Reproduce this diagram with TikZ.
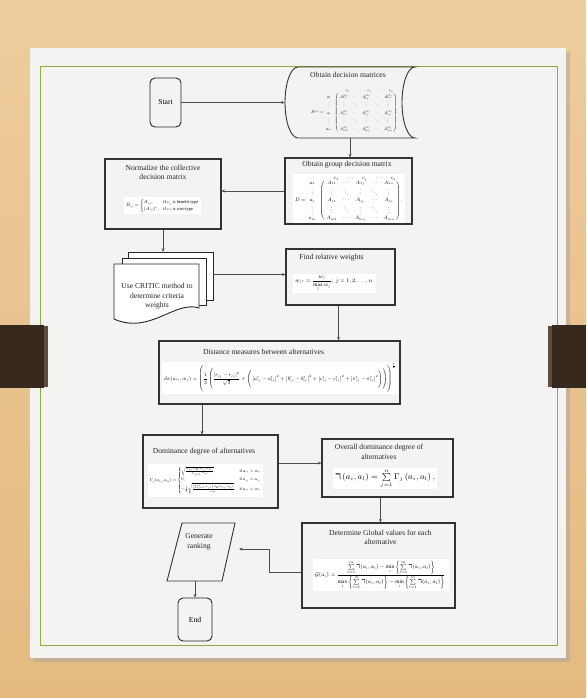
\documentclass[tikz,border=0pt]{standalone}
\usepackage{amsmath,amssymb}
\usepackage{array}
\usepackage{graphicx}
\usepackage{fontspec}
\setmainfont{Liberation Serif}
\usetikzlibrary{arrows.meta,calc}
\definecolor{wood}     {RGB}{228,186,130}
\definecolor{woodlight}{RGB}{238,204,156}
\definecolor{paper}    {RGB}{243,243,241}
\definecolor{greenline}{RGB}{140,172,60}
\definecolor{binder}   {RGB}{56,41,30}
\definecolor{binderrim}{RGB}{96,76,56}
\newcommand{\fml}[2]{\resizebox{#1pt}{!}{$\displaystyle #2$}}

\begin{document}
\begin{tikzpicture}[x=1pt,y=-1pt,>={Stealth[length=3.5pt,width=3pt]},
    font=\fontsize{7.6}{9.6}\selectfont,
    procbox/.style={draw=black!80,line width=1.1pt},
    termbox/.style={draw=black!85,line width=0.9pt,rounded corners=5pt},
    pagebox/.style={draw=black!85,line width=0.9pt,fill=white},
    ttl/.style={text=black!85,align=center,inner sep=0pt},
    fmlbox/.style={fill=white,inner sep=2pt},
    conn/.style={draw=black!70,line width=0.6pt}]
  \useasboundingbox (0,0) rectangle (586,698);
  \shade[top color=woodlight,bottom color=wood] (0,0) rectangle (586,698);
  \fill[black!35,opacity=0.5] (33,52) rectangle (570,662);
  \fill[paper] (30,48) rectangle (566,658);
  \draw[greenline,line width=0.9pt] (40,66) rectangle (557,645);
  \fill[binder] (0,325) rectangle (44,388);
  \fill[binderrim] (44,326) rectangle (48,387);
  \fill[binder] (552,325) rectangle (586,388);
  \fill[binderrim] (548,326) rectangle (552,387);

  \node[termbox,minimum width=31,minimum height=49] (start) at (165.5,102.5) {Start};

  \node[minimum width=130,minimum height=71,inner sep=0pt] (dm) at (350,102.5) {};
  \draw[procbox,line width=0.9pt] (298,67) -- (415,67)
    .. controls (407.8,67) and (402,82.9) .. (402,102.5)
    .. controls (402,122.1) and (407.8,138) .. (415,138) -- (298,138)
    .. controls (290.8,138) and (285,122.1) .. (285,102.5)
    .. controls (285,82.9) and (290.8,67) .. cycle;
  \node[ttl] (dmt) at (348,75) {Obtain decision matrices};
  \node[inner sep=0pt] (dmf) at (355,109.5) {\def\arraystretch{1.4}\fml{88}{\begin{array}{@{}r@{}c@{\,}c@{}}
      & & \begin{array}{@{\hspace{10pt}}*{5}{w{c}{1.6em}}@{}} c_1&\cdots&c_j&\cdots&c_n\end{array}\\[-1pt]
      B^{(k)}= & \begin{array}{c}a_1\\\vdots\\a_i\\\vdots\\a_m\end{array} &
      \left(\begin{array}{*{5}{w{c}{1.6em}}}
        A^{(k)}_{11}&\cdots&A^{(k)}_{1j}&\cdots&A^{(k)}_{1n}\\
        \vdots&\ddots&\vdots&\ddots&\vdots\\
        A^{(k)}_{i1}&\cdots&A^{(k)}_{ij}&\cdots&A^{(k)}_{in}\\
        \vdots&\ddots&\vdots&\ddots&\vdots\\
        A^{(k)}_{m1}&\cdots&A^{(k)}_{mj}&\cdots&A^{(k)}_{mn}\end{array}\right).
    \end{array}}};

  \node[procbox,minimum width=127,minimum height=66] (grp) at (348.5,191) {};
  \node[ttl] (grpt) at (347,165) {Obtain group decision matrix};
  \node[fmlbox] (grpf) at (349,198.5) {\fml{108}{\begin{array}{@{}r@{}c@{\,}c@{}}
      & & \begin{array}{@{\hspace{10pt}}*{5}{w{c}{1.6em}}@{}} c_1&\cdots&c_j&\cdots&c_n\end{array}\\[-3pt]
      D= & \begin{array}{c}a_1\\\vdots\\a_i\\\vdots\\a_m\end{array} &
      \left(\begin{array}{*{5}{w{c}{1.6em}}}
        A_{11}&\cdots&A_{1j}&\cdots&A_{1n}\\
        \vdots&\ddots&\vdots&\ddots&\vdots\\
        A_{i1}&\cdots&A_{ij}&\cdots&A_{in}\\
        \vdots&\ddots&\vdots&\ddots&\vdots\\
        A_{m1}&\cdots&A_{mj}&\cdots&A_{mn}\end{array}\right).
    \end{array}}};

  \node[procbox,minimum width=116,minimum height=70] (norm) at (163,194) {};
  \node[ttl] (normt) at (163,172.5) {Normalize the collective\\decision matrix};
  \node[fmlbox] (normf) at (162.5,205.5) {\fml{73}{B_{ij}=\begin{cases}
      A_{ij}, & \text{if } c_j \text{ is benefit-type}\\
      (A_{ij})^c, & \text{if } c_j \text{ is cost-type}\end{cases}}};

  \draw[pagebox] (128,252) rectangle (213,300);
  \draw[pagebox] (122,258) rectangle (206,305);
  \draw[pagebox] (114,264) -- (199,264) -- (199,308)
    .. controls (175,300) and (150,335) .. (114,319) -- cycle;
  \node[minimum width=99,minimum height=71,inner sep=0pt] (critic) at (163.5,287.5) {};
  \node[ttl] (critict) at (157,296.5) {Use CRITIC method to\\determine criteria\\weights};

  \node[procbox,minimum width=109,minimum height=56] (rel) at (340.5,277) {};
  \node[ttl] (relt) at (331.5,258) {Find relative weights};
  \node[fmlbox] (relf) at (334.5,283.5) {\fml{79}{w_{jr}=\frac{w_j}{\max\limits_j w_j};\ j=1,2,\ldots,n.}};

  \node[procbox,minimum width=241,minimum height=63] (dist) at (279.5,372.5) {};
  \node[ttl] (distt) at (263.5,352) {Distance measures between alternatives};
  \node[fmlbox] (distf) at (280,378) {\fml{232}{d_E(a_{ij},a_{lj})=\left(\rule[-17pt]{0pt}{40pt}\frac{1}{3}\left(\rule[-14pt]{0pt}{33pt}\frac{\left|r_{ij}-r_{lj}\right|^2}{\sqrt{3}}
      +\left(\rule[-10pt]{0pt}{25pt}\left|a^t_{ij}-a^t_{lj}\right|^2+\left|b^t_{ij}-b^t_{lj}\right|^2+\left|c^t_{ij}-c^t_{lj}\right|^2
      +\left|\pi^t_{ij}-\pi^t_{lj}\right|^2\right)\right)\right)^{\frac{1}{2}}}};

  \node[procbox,minimum width=135,minimum height=73] (dom) at (210.5,471.5) {};
  \node[ttl] (domt) at (204,452) {Dominance degree of alternatives};
  \node[fmlbox] (domf) at (205.5,480.5) {\fml{111}{\Gamma_j(a_{ij},a_{lj})=\begin{cases}
      \sqrt{\frac{w_{jr}\,d_E(a_{ij},a_{lj})}{\sum_{j=1}^{n}w_{jr}}}, & \text{if } a_{ij}>a_{lj}\\
      0, & \text{if } a_{ij}=a_{lj}\\
      -\frac{1}{\theta}\sqrt{\frac{\left(\sum_{j=1}^{n}w_{jr}\right)d_E(a_{ij},a_{lj})}{w_{jr}}}, & \text{if } a_{ij}<a_{lj}
    \end{cases}}};

  \node[procbox,minimum width=131,minimum height=58] (ovr) at (387.5,468) {};
  \node[ttl] (ovrt) at (379,452) {Overall dominance degree of\\alternatives};
  \node[fmlbox,inner ysep=1pt] (ovrf) at (385,478.5) {\fml{100}{\textstyle\daleth\left(a_i,a_l\right)=\sum\limits_{j=1}^{n}\Gamma_j\left(a_i,a_l\right),}};

  \node[procbox,minimum width=153,minimum height=85] (glob) at (378.5,565.5) {};
  \node[ttl] (globt) at (380.5,537.5) {Determine Global values for each\\alternative};
  \node[fmlbox] (globf) at (381,575) {\fml{132}{\mathcal{G}(a_i)=\frac{\sum\limits_{l=1}^{m}\daleth(a_i,a_l)-\min\limits_i\left\{\sum\limits_{l=1}^{m}\daleth(a_i,a_l)\right\}}
      {\max\limits_i\left\{\sum\limits_{l=1}^{m}\daleth(a_i,a_l)\right\}-\min\limits_i\left\{\sum\limits_{l=1}^{m}\daleth(a_i,a_l)\right\}}.}};

  \draw[procbox,line width=0.9pt] (182,523) -- (235,523) -- (222,581) -- (167,581) -- cycle;
  \node[ttl] (gen) at (199,541.5) {Generate\\ranking};
  \coordinate (genin) at (239,549);
  \coordinate (genout) at (195,581);

  \node[termbox,minimum width=34,minimum height=43] (end) at (195,619.5) {End};

  \draw[conn,->] (start) -- (dm);
  \draw[conn,->] (dm.south) -- (dm.south |- grp.north);
  \draw[conn,->] (grp.west) -- (grp.west -| norm.east);
  \draw[conn,->] (norm.south) -- (norm.south |- critic.north);
  \draw[conn,->] ([yshift=13pt]critic.east) -- ([yshift=13pt]critic.east -| rel.west);
  \draw[conn,->] ([xshift=-2pt]rel.south) -- ([xshift=-2pt]rel.south |- dist.north);
  \draw[conn,->] ([xshift=-8.5pt]dom.north |- dist.south) -- ([xshift=-8.5pt]dom.north);
  \draw[conn,->] ([yshift=5pt]ovr.west -| dom.east) -- ([yshift=5pt]ovr.west);
  \draw[conn,->] ([xshift=2pt]glob.north |- ovr.south) -- ([xshift=2pt]glob.north);
  \draw[conn,->] ([yshift=-6.5pt]glob.west) -- ++(-32,0) |- (genin);
  \draw[conn,->] (genout) -- (end);
\end{tikzpicture}
\end{document}
